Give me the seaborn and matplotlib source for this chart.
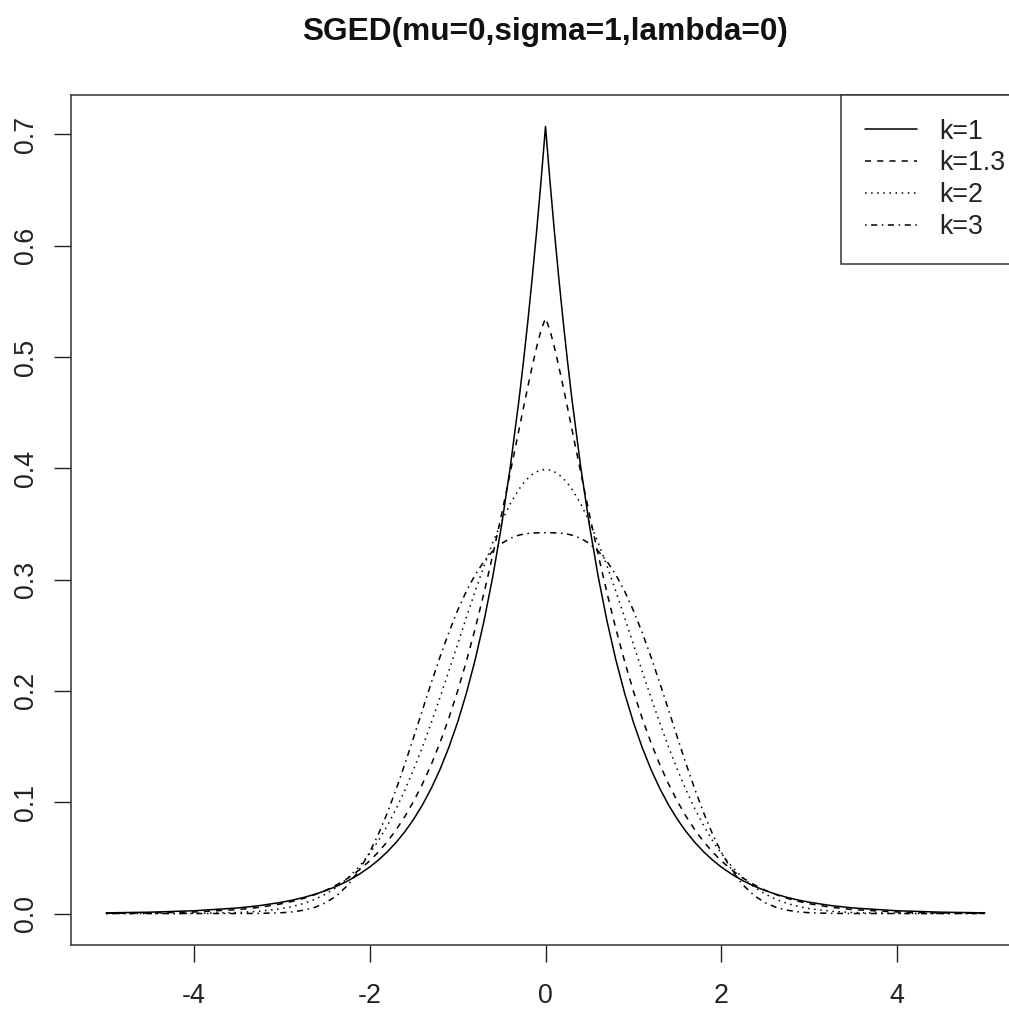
import matplotlib
matplotlib.use("Agg")
import matplotlib.pyplot as plt
import seaborn as sns
import pandas as pd

# ---- data ----
x_vals = [-5.0, -4.5, -4.0, -3.5, -3.25, -3.0, -2.875, -2.75, -2.625, -2.5, -2.375, -2.25,
          -2.125, -2.0, -1.9, -1.8, -1.7, -1.6, -1.5, -1.4, -1.3, -1.2, -1.1, -1.0, -0.9,
          -0.8, -0.7, -0.6, -0.5, -0.4, -0.3, -0.25, -0.2, -0.15, -0.1, -0.05,
          0.0,
          0.05, 0.1, 0.15, 0.2, 0.25, 0.3, 0.4, 0.5, 0.6, 0.7, 0.8, 0.9, 1.0, 1.1, 1.2,
          1.3, 1.4, 1.5, 1.6, 1.7, 1.8, 1.9, 2.0, 2.125, 2.25, 2.375, 2.5, 2.625, 2.75,
          2.875, 3.0, 3.25, 3.5, 4.0, 4.5, 5.0]

dens_k1 = [0.00060, 0.00122, 0.00247, 0.00501, 0.00713, 0.01016, 0.01213, 0.01447, 0.01727,
           0.02061, 0.02459, 0.02935, 0.03502, 0.04179, 0.04814, 0.05545, 0.06388, 0.07358,
           0.08476, 0.09763, 0.11247, 0.12956, 0.14924, 0.17191, 0.19803, 0.22811, 0.26276,
           0.30268, 0.34866, 0.40162, 0.46263, 0.49652, 0.53291, 0.57195, 0.61386, 0.65884,
           0.70711,
           0.65884, 0.61386, 0.57195, 0.53291, 0.49652, 0.46263, 0.40162, 0.34866, 0.30268,
           0.26276, 0.22811, 0.19803, 0.17191, 0.14924, 0.12956, 0.11247, 0.09763, 0.08476,
           0.07358, 0.06388, 0.05545, 0.04814, 0.04179, 0.03502, 0.02935, 0.02459, 0.02061,
           0.01727, 0.01447, 0.01213, 0.01016, 0.00713, 0.00501, 0.00247, 0.00122, 0.00060]

dens_k13 = [0.00018, 0.00051, 0.00137, 0.00354, 0.00561, 0.00881, 0.01099, 0.01367, 0.01695,
            0.02095, 0.02582, 0.03172, 0.03883, 0.04737, 0.05539, 0.06460, 0.07516, 0.08722,
            0.10092, 0.11644, 0.13395, 0.15359, 0.17552, 0.19986, 0.22671, 0.25609, 0.28797,
            0.32223, 0.35862, 0.39660, 0.43539, 0.45473, 0.47371, 0.49201, 0.50915, 0.52429,
            0.53490,
            0.52429, 0.50915, 0.49201, 0.47371, 0.45473, 0.43539, 0.39660, 0.35862, 0.32223,
            0.28797, 0.25609, 0.22671, 0.19986, 0.17552, 0.15359, 0.13395, 0.11644, 0.10092,
            0.08722, 0.07516, 0.06460, 0.05539, 0.04737, 0.03883, 0.03172, 0.02582, 0.02095,
            0.01695, 0.01367, 0.01099, 0.00881, 0.00561, 0.00354, 0.00137, 0.00051, 0.00018]

dens_k2 = [0.0, 0.00002, 0.00013, 0.00087, 0.00203, 0.00443, 0.00640, 0.00909, 0.01272,
           0.01753, 0.02377, 0.03174, 0.04172, 0.05399, 0.06562, 0.07895, 0.09405, 0.11092,
           0.12952, 0.14973, 0.17137, 0.19419, 0.21785, 0.24197, 0.26609, 0.28969, 0.31225,
           0.33322, 0.35207, 0.36827, 0.38139, 0.38667, 0.39104, 0.39448, 0.39695, 0.39844,
           0.39894,
           0.39844, 0.39695, 0.39448, 0.39104, 0.38667, 0.38139, 0.36827, 0.35207, 0.33322,
           0.31225, 0.28969, 0.26609, 0.24197, 0.21785, 0.19419, 0.17137, 0.14973, 0.12952,
           0.11092, 0.09405, 0.07895, 0.06562, 0.05399, 0.04172, 0.03174, 0.02377, 0.01753,
           0.01272, 0.00909, 0.00640, 0.00443, 0.00203, 0.00087, 0.00013, 0.00002, 0.0]

dens_k3 = [0.0, 0.0, 0.0, 0.00002, 0.00014, 0.00072, 0.00152, 0.00298, 0.00553,
           0.00969, 0.01612, 0.02546, 0.03835, 0.05519, 0.07158, 0.09047, 0.11157, 0.13442,
           0.15844, 0.18296, 0.20727, 0.23066, 0.25253, 0.27233, 0.28969, 0.30439, 0.31635,
           0.32565, 0.33248, 0.33713, 0.33999, 0.34087, 0.34147, 0.34183, 0.34201, 0.34208,
           0.34209,
           0.34208, 0.34201, 0.34183, 0.34147, 0.34087, 0.33999, 0.33713, 0.33248, 0.32565,
           0.31635, 0.30439, 0.28969, 0.27233, 0.25253, 0.23066, 0.20727, 0.18296, 0.15844,
           0.13442, 0.11157, 0.09047, 0.07158, 0.05519, 0.03835, 0.02546, 0.01612, 0.00969,
           0.00553, 0.00298, 0.00152, 0.00072, 0.00014, 0.00002, 0.0, 0.0, 0.0]

series_labels = ["k=1", "k=1.3", "k=2", "k=3"]
x_ticks = [-4, -2, 0, 2, 4]
x_tick_labels = ["-4", "-2", "0", "2", "4"]
y_ticks = [0.0, 0.1, 0.2, 0.3, 0.4, 0.5, 0.6, 0.7]
y_tick_labels = ["0.0", "0.1", "0.2", "0.3", "0.4", "0.5", "0.6", "0.7"]
title = "SGED(mu=0,sigma=1,lambda=0)"

# ---- style ----
sns.set_style("ticks")
plt.rcParams["font.family"] = ["Liberation Sans", "DejaVu Sans"]

W, H = 1009, 1015
FS = 19.3
fig = plt.figure(figsize=(W / 100, H / 100), dpi=100)
ax = fig.add_axes([71 / W, (H - 945) / H, (1020 - 71) / W, (945 - 95) / H])

styles = ["-", (0, (4, 4)), (0, (1, 3)), (0, (1, 3, 4, 3))]
series = [dens_k1, dens_k13, dens_k2, dens_k3]
LW = 1.1
for lab, ys, ls in zip(series_labels, series, styles):
    df = pd.DataFrame({"x": x_vals, "y": ys})
    sns.lineplot(data=df, x="x", y="y", ax=ax, color="black", linewidth=LW,
                 linestyle=ls, label=lab, sort=False, estimator=None)

ax.set_xlim(-5.4, 5.4)
ax.set_ylim(-0.02828, 0.73539)
ax.set_xticks(x_ticks)
ax.set_xticklabels(x_tick_labels)
ax.set_yticks(y_ticks)
ax.set_yticklabels(y_tick_labels, rotation=90, va="center")
ax.set_xlabel("")
ax.set_ylabel("")
ax.tick_params(axis="both", direction="out", length=12.2, width=1.0,
               labelsize=FS, colors="#222222", labelcolor="#222222")
ax.tick_params(axis="x", pad=15)
ax.tick_params(axis="y", pad=11)
for sp in ax.spines.values():
    sp.set_visible(True)
    sp.set_linewidth(1.1)
    sp.set_color("#333333")

leg = ax.legend(loc="upper left", bbox_to_anchor=((841 - 71) / 949, 1.0), borderaxespad=0.0,
                frameon=True, fancybox=False, framealpha=1, edgecolor="#333333",
                fontsize=FS, handlelength=1.95, handletextpad=0.85, borderpad=0.88,
                labelspacing=0.22)
leg.get_frame().set_linewidth(1.1)
for t in leg.get_texts():
    t.set_color("#222222")

fig.text(545.5 / W, 1 - 40 / H, title, ha="center", va="baseline",
         fontsize=22.8, fontweight="bold", color="#111111")

fig.savefig("out.png", dpi=100)
